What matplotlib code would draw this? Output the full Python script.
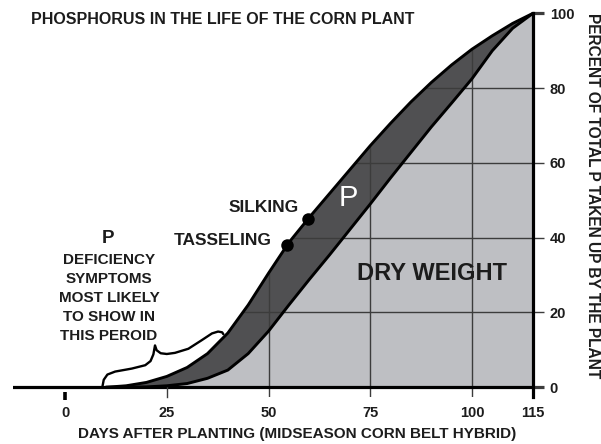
import matplotlib
matplotlib.use("Agg")
import matplotlib.pyplot as plt
from matplotlib.patches import Polygon
import numpy as np

# ---------------- data ----------------
days = [10, 15, 20, 25, 30, 35, 40, 45, 50, 55, 60, 65, 70, 75, 80, 85, 90, 95, 100, 105, 110, 115]
p_uptake = [0, 0.4, 1.3, 2.9, 5.3, 9.0, 14.5, 22.0, 30.5, 38.7, 45.4, 51.8, 58.2, 64.6,
            70.6, 76.3, 81.5, 86.2, 90.4, 94.0, 97.3, 100]
dry_weight = [0, 0.02, 0.1, 0.4, 1.0, 2.4, 4.6, 9.0, 15.0, 22.0, 28.8, 35.4, 42.2, 49.0,
              56.0, 62.8, 69.6, 76.0, 82.5, 90.0, 96.0, 100]

stage_names = ["TASSELING", "SILKING"]
stage_days = [54.5, 59.8]
stage_pct = [38.0, 45.1]

x_ticks = [0, 25, 50, 75, 100, 115]
y_ticks = [0, 20, 40, 60, 80, 100]
grid_days = [50, 75, 100]
grid_pct = [20, 40, 60, 80]

brace_days = [9.2, 9.5, 10.4, 12.3, 16.4, 19.7, 21.0, 21.7, 22.1, 22.5, 23.5, 25.0, 27.0,
              30.3, 33.6, 36.1, 37.6, 38.6, 38.9]
brace_pct = [0.3, 2.0, 3.4, 4.2, 5.0, 5.9, 7.0, 8.8, 11.2, 9.9, 9.1, 8.9, 9.2,
             10.3, 12.6, 14.4, 14.9, 14.7, 14.2]

title = "PHOSPHORUS IN THE LIFE OF THE CORN PLANT"
xlabel = "DAYS AFTER PLANTING (MIDSEASON CORN BELT HYBRID)"
ylabel = "PERCENT OF TOTAL P TAKEN UP BY THE PLANT"
deficiency_head = "P"
deficiency_lines = ["DEFICIENCY", "SYMPTOMS", "MOST LIKELY", "TO SHOW IN", "THIS PEROID"]
band_label = "P"
area_label = "DRY WEIGHT"

# ---------------- style ----------------
plt.rcParams['font.family'] = ['Liberation Sans', 'DejaVu Sans']
plt.rcParams['font.weight'] = 'bold'
TXT = '#1c1c1c'
LIGHT = '#bebfc3'
DARK = '#505052'
GRID = '#3c3c3c'

W, H = 601, 444
fig = plt.figure(figsize=(W / 100, H / 100), dpi=100)
fig.patch.set_facecolor('white')
YMIN, YMAX = -2.6, 100
XMIN, XMAX = -12.8, 115
ax = fig.add_axes([13 / W, (H - 397) / H, 520 / W, (397 - 13.3) / H])
ax.set_xlim(XMIN, XMAX)
ax.set_ylim(YMIN, YMAX)
ax.patch.set_alpha(0)
for s in ['left', 'top', 'bottom']:
    ax.spines[s].set_visible(False)
ax.spines['right'].set_linewidth(2.3)
ax.spines['right'].set_color('black')
ax.spines['right'].set_zorder(7)

# fills
ax.fill_between(days, 0, dry_weight, color=LIGHT, lw=0, zorder=1)
ax.fill_between(days, dry_weight, p_uptake, color=DARK, lw=0, zorder=1)

# grid clipped to the filled region (plus a strip below the baseline)
clip_xy = np.column_stack([days + [XMAX, days[0]], p_uptake + [YMIN, YMIN]])
clip_poly = Polygon(clip_xy, closed=True, transform=ax.transData)
for gx in grid_days:
    ln, = ax.plot([gx, gx], [YMIN, YMAX], color=GRID, lw=1.0, zorder=2)
    ln.set_clip_path(clip_poly)
for gy in grid_pct:
    ln, = ax.plot([XMIN, XMAX], [gy, gy], color=GRID, lw=1.0, zorder=2)
    ln.set_clip_path(clip_poly)

# baseline
ax.axhline(0, color='black', lw=2.3, zorder=4)

# curves
ax.plot(days, p_uptake, color='black', lw=2.1, zorder=5, clip_on=False, solid_capstyle='round',
        solid_joinstyle='round')
ax.plot(days, dry_weight, color='black', lw=2.1, zorder=5, clip_on=False, solid_capstyle='round',
        solid_joinstyle='round')

# deficiency brace
ax.plot(brace_days, brace_pct, color='black', lw=1.7, zorder=5, solid_capstyle='round',
        solid_joinstyle='round')

# stage dots
ax.scatter(stage_days, stage_pct, s=9 ** 2, color='black', zorder=6, linewidths=0)

# x ticks
ax.set_xticks(x_ticks)
ax.set_xticklabels([str(t) for t in x_ticks])
ax.tick_params(axis='x', length=0, pad=6.5, labelsize=10.5, labelcolor=TXT)
ax.plot([x_ticks[0]] * 2, [-1.25, -3.4], color='black', lw=2.6, clip_on=False, zorder=4,
        solid_capstyle='butt')
ax.plot([x_ticks[1]] * 2, [0, YMIN], color=GRID, lw=1.0, clip_on=False, zorder=4)

# y ticks (right)
ax.yaxis.tick_right()
ax.set_yticks(y_ticks)
ax.set_yticklabels([str(t) for t in y_ticks])
ax.tick_params(axis='y', length=8, width=1.0, color=GRID, pad=4, labelsize=10.5, labelcolor=TXT)
for t, v in zip(ax.yaxis.get_major_ticks(), y_ticks):
    if v in (y_ticks[0], y_ticks[-1]):
        t.tick2line.set_color('black')
        t.tick2line.set_markeredgewidth(2.3)

# texts
ax.text(10.6, 39.8, deficiency_head, ha='center', va='center', fontsize=13.5, color=TXT)
for i, line in enumerate(deficiency_lines):
    ax.text(10.8, 34.1 - i * 5.1, line, ha='center', va='center', fontsize=11, color=TXT)
ax.text(50.8, 39.3, stage_names[0], ha='right', va='center', fontsize=12.5, color=TXT)
ax.text(57.4, 48.2, stage_names[1], ha='right', va='center', fontsize=12.5, color=TXT)
ax.text(69.7, 50.5, band_label, ha='center', va='center', fontsize=21, color='white',
        fontweight='normal', zorder=8)
ax.text(90.2, 30.4, area_label, ha='center', va='center', fontsize=17, color=TXT, zorder=8)

fig.text(223 / W, 1 - 20 / H, title, ha='center', va='center', fontsize=11.5, color=TXT)
fig.text(297 / W, 1 - 434 / H, xlabel, ha='center', va='center', fontsize=11, color=TXT)
fig.text(592 / W, 1 - 196 / H, ylabel, ha='center', va='center', fontsize=11.2, color=TXT,
         rotation=270)

fig.savefig('out.png', dpi=100, facecolor='white')
